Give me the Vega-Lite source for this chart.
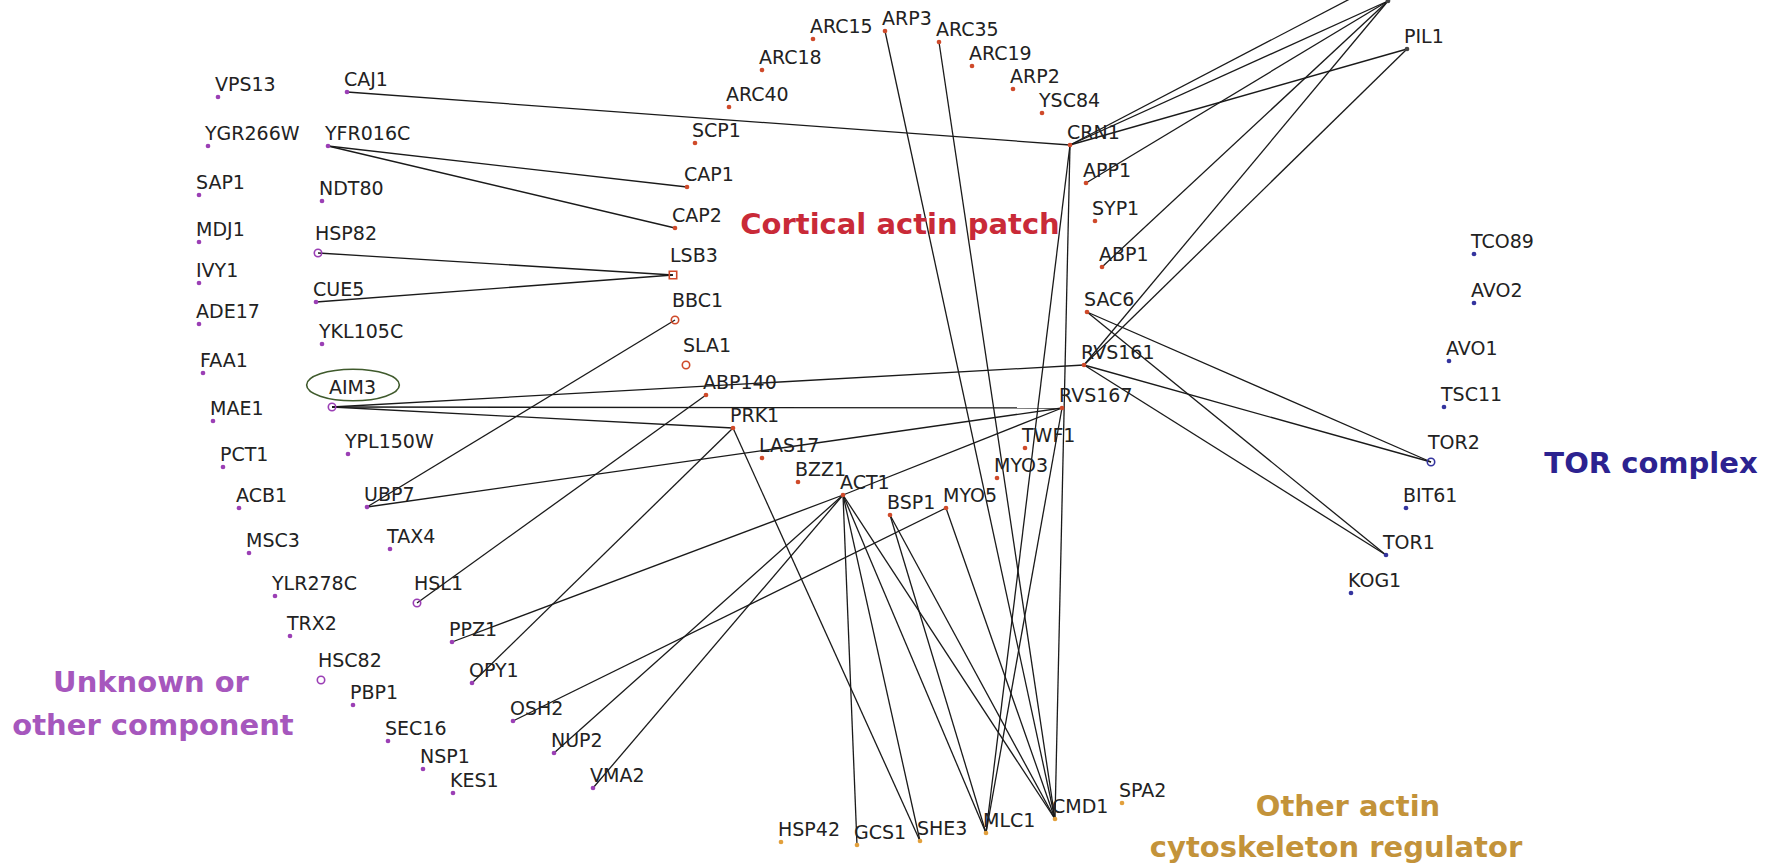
{
  "$schema": "https://vega.github.io/schema/vega-lite/v6.json",
  "width": 1774,
  "height": 865,
  "padding": 0,
  "autosize": {"type": "none"},
  "background": "white",
  "config": {"view": {"stroke": null}},
  "datasets": {
    "nodes": [
      {"label": "VPS13", "x": 218, "y": 97, "g": "Unknown", "k": "dot"},
      {"label": "CAJ1", "x": 347, "y": 92, "g": "Unknown", "k": "dot"},
      {"label": "YGR266W", "x": 208, "y": 146, "g": "Unknown", "k": "dot"},
      {"label": "YFR016C", "x": 328, "y": 146, "g": "Unknown", "k": "dot"},
      {"label": "SAP1", "x": 199, "y": 195, "g": "Unknown", "k": "dot"},
      {"label": "NDT80", "x": 322, "y": 201, "g": "Unknown", "k": "dot"},
      {"label": "MDJ1", "x": 199, "y": 242, "g": "Unknown", "k": "dot"},
      {"label": "HSP82", "x": 318, "y": 253, "g": "Unknown", "k": "open"},
      {"label": "IVY1", "x": 199, "y": 283, "g": "Unknown", "k": "dot"},
      {"label": "CUE5", "x": 316, "y": 302, "g": "Unknown", "k": "dot"},
      {"label": "ADE17", "x": 199, "y": 324, "g": "Unknown", "k": "dot"},
      {"label": "YKL105C", "x": 322, "y": 344, "g": "Unknown", "k": "dot"},
      {"label": "FAA1", "x": 203, "y": 373, "g": "Unknown", "k": "dot"},
      {"label": "AIM3", "x": 332, "y": 407, "g": "Unknown", "k": "open"},
      {"label": "MAE1", "x": 213, "y": 421, "g": "Unknown", "k": "dot"},
      {"label": "YPL150W", "x": 348, "y": 454, "g": "Unknown", "k": "dot"},
      {"label": "PCT1", "x": 223, "y": 467, "g": "Unknown", "k": "dot"},
      {"label": "ACB1", "x": 239, "y": 508, "g": "Unknown", "k": "dot"},
      {"label": "UBP7", "x": 367, "y": 507, "g": "Unknown", "k": "dot"},
      {"label": "MSC3", "x": 249, "y": 553, "g": "Unknown", "k": "dot"},
      {"label": "TAX4", "x": 390, "y": 549, "g": "Unknown", "k": "dot"},
      {"label": "YLR278C", "x": 275, "y": 596, "g": "Unknown", "k": "dot"},
      {"label": "HSL1", "x": 417, "y": 603, "g": "Unknown", "k": "open"},
      {"label": "TRX2", "x": 290, "y": 636, "g": "Unknown", "k": "dot"},
      {"label": "HSC82", "x": 321, "y": 680, "g": "Unknown", "k": "open"},
      {"label": "PBP1", "x": 353, "y": 705, "g": "Unknown", "k": "dot"},
      {"label": "SEC16", "x": 388, "y": 741, "g": "Unknown", "k": "dot"},
      {"label": "NSP1", "x": 423, "y": 769, "g": "Unknown", "k": "dot"},
      {"label": "PPZ1", "x": 452, "y": 642, "g": "Unknown", "k": "dot"},
      {"label": "OPY1", "x": 472, "y": 683, "g": "Unknown", "k": "dot"},
      {"label": "KES1", "x": 453, "y": 793, "g": "Unknown", "k": "dot"},
      {"label": "OSH2", "x": 513, "y": 721, "g": "Unknown", "k": "dot"},
      {"label": "NUP2", "x": 554, "y": 753, "g": "Unknown", "k": "dot"},
      {"label": "VMA2", "x": 593, "y": 788, "g": "Unknown", "k": "dot"},
      {"label": "ARC15", "x": 813, "y": 39, "g": "Cortical", "k": "dot"},
      {"label": "ARC18", "x": 762, "y": 70, "g": "Cortical", "k": "dot"},
      {"label": "ARC40", "x": 729, "y": 107, "g": "Cortical", "k": "dot"},
      {"label": "SCP1", "x": 695, "y": 143, "g": "Cortical", "k": "dot"},
      {"label": "CAP1", "x": 687, "y": 187, "g": "Cortical", "k": "dot"},
      {"label": "CAP2", "x": 675, "y": 228, "g": "Cortical", "k": "dot"},
      {"label": "LSB3", "x": 673, "y": 275, "g": "Cortical", "k": "square"},
      {"label": "BBC1", "x": 675, "y": 320, "g": "Cortical", "k": "open"},
      {"label": "SLA1", "x": 686, "y": 365, "g": "Cortical", "k": "open"},
      {"label": "ABP140", "x": 706, "y": 395, "g": "Cortical", "k": "dot"},
      {"label": "PRK1", "x": 733, "y": 428, "g": "Cortical", "k": "dot"},
      {"label": "LAS17", "x": 762, "y": 458, "g": "Cortical", "k": "dot"},
      {"label": "BZZ1", "x": 798, "y": 482, "g": "Cortical", "k": "dot"},
      {"label": "ACT1", "x": 843, "y": 495, "g": "Cortical", "k": "dot"},
      {"label": "ARP3", "x": 885, "y": 31, "g": "Cortical", "k": "dot"},
      {"label": "ARC35", "x": 939, "y": 42, "g": "Cortical", "k": "dot"},
      {"label": "ARC19", "x": 972, "y": 66, "g": "Cortical", "k": "dot"},
      {"label": "ARP2", "x": 1013, "y": 89, "g": "Cortical", "k": "dot"},
      {"label": "YSC84", "x": 1042, "y": 113, "g": "Cortical", "k": "dot"},
      {"label": "CRN1", "x": 1070, "y": 145, "g": "Cortical", "k": "dot"},
      {"label": "APP1", "x": 1086, "y": 183, "g": "Cortical", "k": "dot"},
      {"label": "SYP1", "x": 1095, "y": 221, "g": "Cortical", "k": "dot"},
      {"label": "ABP1", "x": 1102, "y": 267, "g": "Cortical", "k": "dot"},
      {"label": "SAC6", "x": 1087, "y": 312, "g": "Cortical", "k": "dot"},
      {"label": "RVS161", "x": 1084, "y": 365, "g": "Cortical", "k": "dot"},
      {"label": "RVS167", "x": 1062, "y": 408, "g": "Cortical", "k": "dot"},
      {"label": "TWF1", "x": 1025, "y": 448, "g": "Cortical", "k": "dot"},
      {"label": "MYO3", "x": 997, "y": 478, "g": "Cortical", "k": "dot"},
      {"label": "MYO5", "x": 946, "y": 508, "g": "Cortical", "k": "dot"},
      {"label": "BSP1", "x": 890, "y": 515, "g": "Cortical", "k": "dot"},
      {"label": "HSP42", "x": 781, "y": 842, "g": "Other", "k": "dot"},
      {"label": "GCS1", "x": 857, "y": 845, "g": "Other", "k": "dot"},
      {"label": "SHE3", "x": 920, "y": 841, "g": "Other", "k": "dot"},
      {"label": "MLC1", "x": 986, "y": 833, "g": "Other", "k": "dot"},
      {"label": "CMD1", "x": 1055, "y": 819, "g": "Other", "k": "dot"},
      {"label": "SPA2", "x": 1122, "y": 803, "g": "Other", "k": "dot"},
      {"label": "PIL1", "x": 1407, "y": 49, "g": "None", "k": "dot"},
      {"label": "", "x": 1388, "y": 1, "g": "None", "k": "dot"},
      {"label": " ", "x": 1390, "y": -22, "g": "None", "k": "dot"},
      {"label": "TCO89", "x": 1474, "y": 254, "g": "TOR", "k": "dot"},
      {"label": "AVO2", "x": 1474, "y": 303, "g": "TOR", "k": "dot"},
      {"label": "AVO1", "x": 1449, "y": 361, "g": "TOR", "k": "dot"},
      {"label": "TSC11", "x": 1444, "y": 407, "g": "TOR", "k": "dot"},
      {"label": "TOR2", "x": 1431, "y": 462, "g": "TOR", "k": "open"},
      {"label": "BIT61", "x": 1406, "y": 508, "g": "TOR", "k": "dot"},
      {"label": "TOR1", "x": 1386, "y": 555, "g": "TOR", "k": "dot"},
      {"label": "KOG1", "x": 1351, "y": 593, "g": "TOR", "k": "dot"}
    ],
    "edges": [
      {"s": "CAJ1", "t": "CRN1"},
      {"s": "YFR016C", "t": "CAP1"},
      {"s": "YFR016C", "t": "CAP2"},
      {"s": "HSP82", "t": "LSB3"},
      {"s": "CUE5", "t": "LSB3"},
      {"s": "UBP7", "t": "BBC1"},
      {"s": "UBP7", "t": "RVS167"},
      {"s": "AIM3", "t": "RVS161"},
      {"s": "AIM3", "t": "RVS167"},
      {"s": "AIM3", "t": "PRK1"},
      {"s": "HSL1", "t": "ABP140"},
      {"s": "OPY1", "t": "PRK1"},
      {"s": "PRK1", "t": "SHE3"},
      {"s": "PPZ1", "t": "ACT1"},
      {"s": "ACT1", "t": "RVS167"},
      {"s": "OSH2", "t": "MYO5"},
      {"s": "NUP2", "t": "ACT1"},
      {"s": "VMA2", "t": "ACT1"},
      {"s": "ACT1", "t": "GCS1"},
      {"s": "ACT1", "t": "SHE3"},
      {"s": "ACT1", "t": "MLC1"},
      {"s": "ACT1", "t": "CMD1"},
      {"s": "BSP1", "t": "MLC1"},
      {"s": "BSP1", "t": "CMD1"},
      {"s": "MYO5", "t": "CMD1"},
      {"s": "CRN1", "t": "CMD1"},
      {"s": "CRN1", "t": "MLC1"},
      {"s": "ARP3", "t": "CMD1"},
      {"s": "ARC35", "t": "CMD1"},
      {"s": "RVS167", "t": "MLC1"},
      {"s": "CRN1", "t": ""},
      {"s": "CRN1", "t": " "},
      {"s": "CRN1", "t": "PIL1"},
      {"s": "APP1", "t": ""},
      {"s": "ABP1", "t": ""},
      {"s": "RVS161", "t": ""},
      {"s": "RVS161", "t": "PIL1"},
      {"s": "SAC6", "t": "TOR2"},
      {"s": "SAC6", "t": "TOR1"},
      {"s": "RVS161", "t": "TOR2"},
      {"s": "RVS161", "t": "TOR1"}
    ],
    "notes": [
      {"text": "Cortical actin patch", "x": 900, "y": 234, "g": "Cortical"},
      {"text": "TOR complex", "x": 1651, "y": 473, "g": "TOR"},
      {"text": "Unknown or", "x": 151, "y": 692, "g": "Unknown"},
      {"text": "other component", "x": 153, "y": 735, "g": "Unknown"},
      {"text": "Other actin", "x": 1348, "y": 816, "g": "Other"},
      {"text": "cytoskeleton regulator", "x": 1336, "y": 857, "g": "Other"}
    ],
    "highlight": [
      {"label": "AIM3", "x": 353, "y": 385}
    ]
  },
  "layer": [
    {
      "data": {"name": "edges"},
      "transform": [
        {"lookup": "s", "from": {"data": {"name": "nodes"}, "key": "label", "fields": ["x", "y"]}, "as": ["sx", "sy"]},
        {"lookup": "t", "from": {"data": {"name": "nodes"}, "key": "label", "fields": ["x", "y"]}, "as": ["tx", "ty"]}
      ],
      "mark": {"type": "rule", "color": "#1a1a1a", "strokeWidth": 1.3, "clip": true},
      "encoding": {
        "x": {"field": "sx", "type": "quantitative", "scale": {"domain": [0, 1774], "nice": false, "zero": false}, "axis": null},
        "y": {"field": "sy", "type": "quantitative", "scale": {"domain": [0, 865], "nice": false, "zero": false, "reverse": true}, "axis": null},
        "x2": {"field": "tx"},
        "y2": {"field": "ty"}
      }
    },
    {
      "data": {"name": "highlight"},
      "mark": {"type": "point", "shape": "M -1 0 A 1 0.34 0 1 1 1 0 A 1 0.34 0 1 1 -1 0 Z", "filled": false, "size": 8600, "strokeWidth": 1.6, "color": "#3f5a2c", "opacity": 1},
      "encoding": {
        "x": {"field": "x", "type": "quantitative"},
        "y": {"field": "y", "type": "quantitative"}
      }
    },
    {
      "data": {"name": "nodes"},
      "transform": [{"filter": "datum.k === 'dot'"}],
      "mark": {"type": "point", "shape": "circle", "filled": true, "size": 22, "opacity": 1, "clip": true},
      "encoding": {
        "x": {"field": "x", "type": "quantitative"},
        "y": {"field": "y", "type": "quantitative"},
        "color": {"field": "g", "type": "nominal", "legend": null,
          "scale": {"domain": ["Unknown", "Cortical", "Other", "TOR", "None"], "range": ["#9b3fb5", "#cf4a2a", "#e2a03c", "#34349e", "#444444"]}}
      }
    },
    {
      "data": {"name": "nodes"},
      "transform": [{"filter": "datum.k !== 'dot'"}],
      "mark": {"type": "point", "filled": false, "size": 55, "strokeWidth": 1.6, "opacity": 1},
      "encoding": {
        "x": {"field": "x", "type": "quantitative"},
        "y": {"field": "y", "type": "quantitative"},
        "shape": {"field": "k", "type": "nominal", "legend": null, "scale": {"domain": ["open", "square"], "range": ["circle", "square"]}},
        "color": {"field": "g", "type": "nominal", "legend": null,
          "scale": {"domain": ["Unknown", "Cortical", "Other", "TOR", "None"], "range": ["#9b3fb5", "#cf4a2a", "#e2a03c", "#34349e", "#444444"]}}
      }
    },
    {
      "data": {"name": "nodes"},
      "transform": [{"filter": "datum.k === 'dot'"}],
      "mark": {"type": "text", "align": "left", "baseline": "alphabetic", "dx": -3, "dy": -6, "font": "DejaVu Sans", "fontSize": 19, "color": "#222222"},
      "encoding": {
        "x": {"field": "x", "type": "quantitative"},
        "y": {"field": "y", "type": "quantitative"},
        "text": {"field": "label"}
      }
    },
    {
      "data": {"name": "nodes"},
      "transform": [{"filter": "datum.k !== 'dot'"}],
      "mark": {"type": "text", "align": "left", "baseline": "alphabetic", "dx": -3, "dy": -13, "font": "DejaVu Sans", "fontSize": 19, "color": "#222222"},
      "encoding": {
        "x": {"field": "x", "type": "quantitative"},
        "y": {"field": "y", "type": "quantitative"},
        "text": {"field": "label"}
      }
    },
    {
      "data": {"name": "notes"},
      "mark": {"type": "text", "align": "center", "baseline": "alphabetic", "font": "DejaVu Sans", "fontWeight": "bold", "fontSize": 29},
      "encoding": {
        "x": {"field": "x", "type": "quantitative"},
        "y": {"field": "y", "type": "quantitative"},
        "text": {"field": "text"},
        "color": {"field": "g", "type": "nominal", "legend": null,
          "scale": {"domain": ["Unknown", "Cortical", "Other", "TOR"], "range": ["#a657bd", "#c92a38", "#c3933a", "#2c2290"]}}
      }
    }
  ],
  "resolve": {"scale": {"color": "independent"}}
}
